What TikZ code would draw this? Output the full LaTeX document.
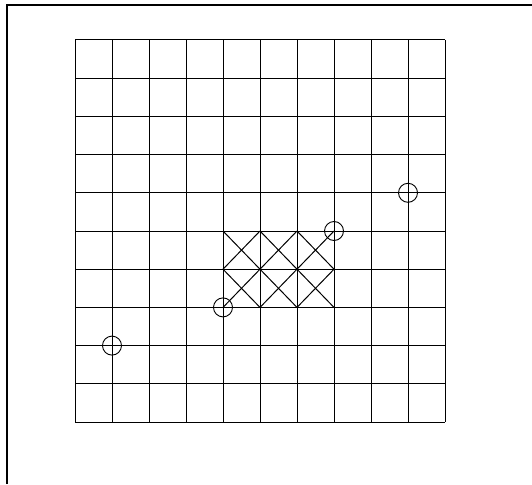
\documentclass[tikz,border=0pt]{standalone}
\begin{document}
\begin{tikzpicture}[x=1pt,y=-1pt,
  gridline/.style={line width=1pt,black},
  frameline/.style={line width=2pt,black},
  marker/.style={circle,draw,line width=0.9pt,minimum size=19pt,inner sep=0pt}]
\useasboundingbox (0,0) rectangle (532,484);
% frame (top and left edges visible)
\draw[frameline] (7,484) -- (7,5) -- (532,5);
% grid 10 x 10
\foreach \i in {0,...,10} {
  \draw[gridline] ({75+37*\i},40) -- ({75+37*\i},422);
  \draw[gridline] (75,{40+38.2*\i}) -- (445,{40+38.2*\i});
}
% crossed cells: columns 4-6, rows 5-6
\foreach \c in {4,5,6} {
  \foreach \r in {5,6} {
    \draw[gridline] ({75+37*\c},{40+38.2*\r}) -- ({75+37*(\c+1)},{40+38.2*(\r+1)});
    \draw[gridline] ({75+37*(\c+1)},{40+38.2*\r}) -- ({75+37*\c},{40+38.2*(\r+1)});
  }
}
% circle markers at grid intersections
\node[marker] (m1) at ({75+37*1},{40+38.2*8}) {};
\node[marker] (m2) at ({75+37*4},{40+38.2*7}) {};
\node[marker] (m3) at ({75+37*7},{40+38.2*5}) {};
\node[marker] (m4) at ({75+37*9},{40+38.2*4}) {};
\end{tikzpicture}
\end{document}
